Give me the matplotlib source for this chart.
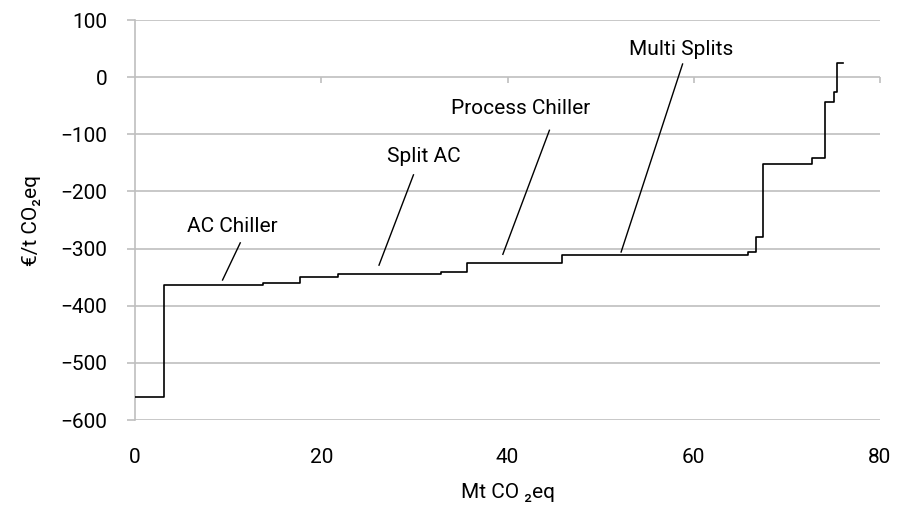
import matplotlib
matplotlib.use("Agg")
import matplotlib.pyplot as plt

plt.rcParams['font.family'] = ['Liberation Sans Narrow', 'DejaVu Sans Condensed', 'Roboto', 'DejaVu Sans']

# abatement cost curve: start of each step (Mt CO2eq) and cost (EUR/t CO2eq)
step_start = [0, 3.1, 13.7, 17.7, 21.8, 32.9, 35.6, 45.9, 65.8, 66.7, 67.4, 72.7, 74.1, 75.1, 75.4]
step_cost = [-560, -363, -360, -350, -345, -341, -325, -312, -306, -279, -152, -142, -43, -26, 24]
curve_end = 76.0

labels = ["AC Chiller", "Split AC", "Process Chiller", "Multi Splits"]
label_x = [10.5, 31.0, 41.4, 58.6]
label_y = [-262, -138, -54, 49]
leader_top = [(11.3, -290), (29.9, -171), (44.5, -93), (58.8, 23)]
leader_end = [(9.4, -355), (26.2, -329), (39.5, -310), (52.2, -306)]

yticks = [100, 0, -100, -200, -300, -400, -500, -600]
xticks = [0, 20, 40, 60, 80]

fig = plt.figure(figsize=(9.02, 5.20), dpi=100)
ax = fig.add_axes([0.1497, 0.1923, 0.8259, 0.7692])

xs = step_start + [curve_end]
ys = step_cost + [step_cost[-1]]
ax.step(xs, ys, where='post', color='black', lw=1.2, zorder=3)

for name, tx, ty, top, end in zip(labels, label_x, label_y, leader_top, leader_end):
    ax.text(tx, ty, name, ha='center', va='center', fontsize=15)
    ax.plot([top[0], end[0]], [top[1], end[1]], color='black', lw=1.0)

ax.set_xlim(0, 80)
ax.set_ylim(-600, 100)
ax.set_yticks(yticks)
ax.set_xticks(xticks)
ax.grid(axis='y', color='#bfbfbf', lw=1.2)
ax.set_axisbelow(True)

for s in ['top', 'right', 'bottom']:
    ax.spines[s].set_visible(False)
ax.spines['left'].set_color('#bfbfbf')
ax.spines['left'].set_linewidth(1.2)
ax.tick_params(axis='y', colors='#bfbfbf', length=6, width=1.2, pad=14, labelcolor='black', labelsize=15)
ax.tick_params(axis='x', length=0, pad=20, labelsize=15)

# horizontal axis crosses at 0 with small tick marks
sec = ax.secondary_xaxis(600 / 700)
sec.set_xticks(xticks[1:])
sec.tick_params(axis='x', direction='in', length=4, width=1.2, colors='#bfbfbf', labelbottom=False, labeltop=False)
sec.spines['bottom'].set_visible(False)
sec.spines['top'].set_visible(False)

ax.set_ylabel("€/t CO₂eq", fontsize=15, labelpad=14)
ax.set_xlabel("Mt CO ₂eq", fontsize=15, labelpad=12)

fig.savefig("out.png", dpi=100)
